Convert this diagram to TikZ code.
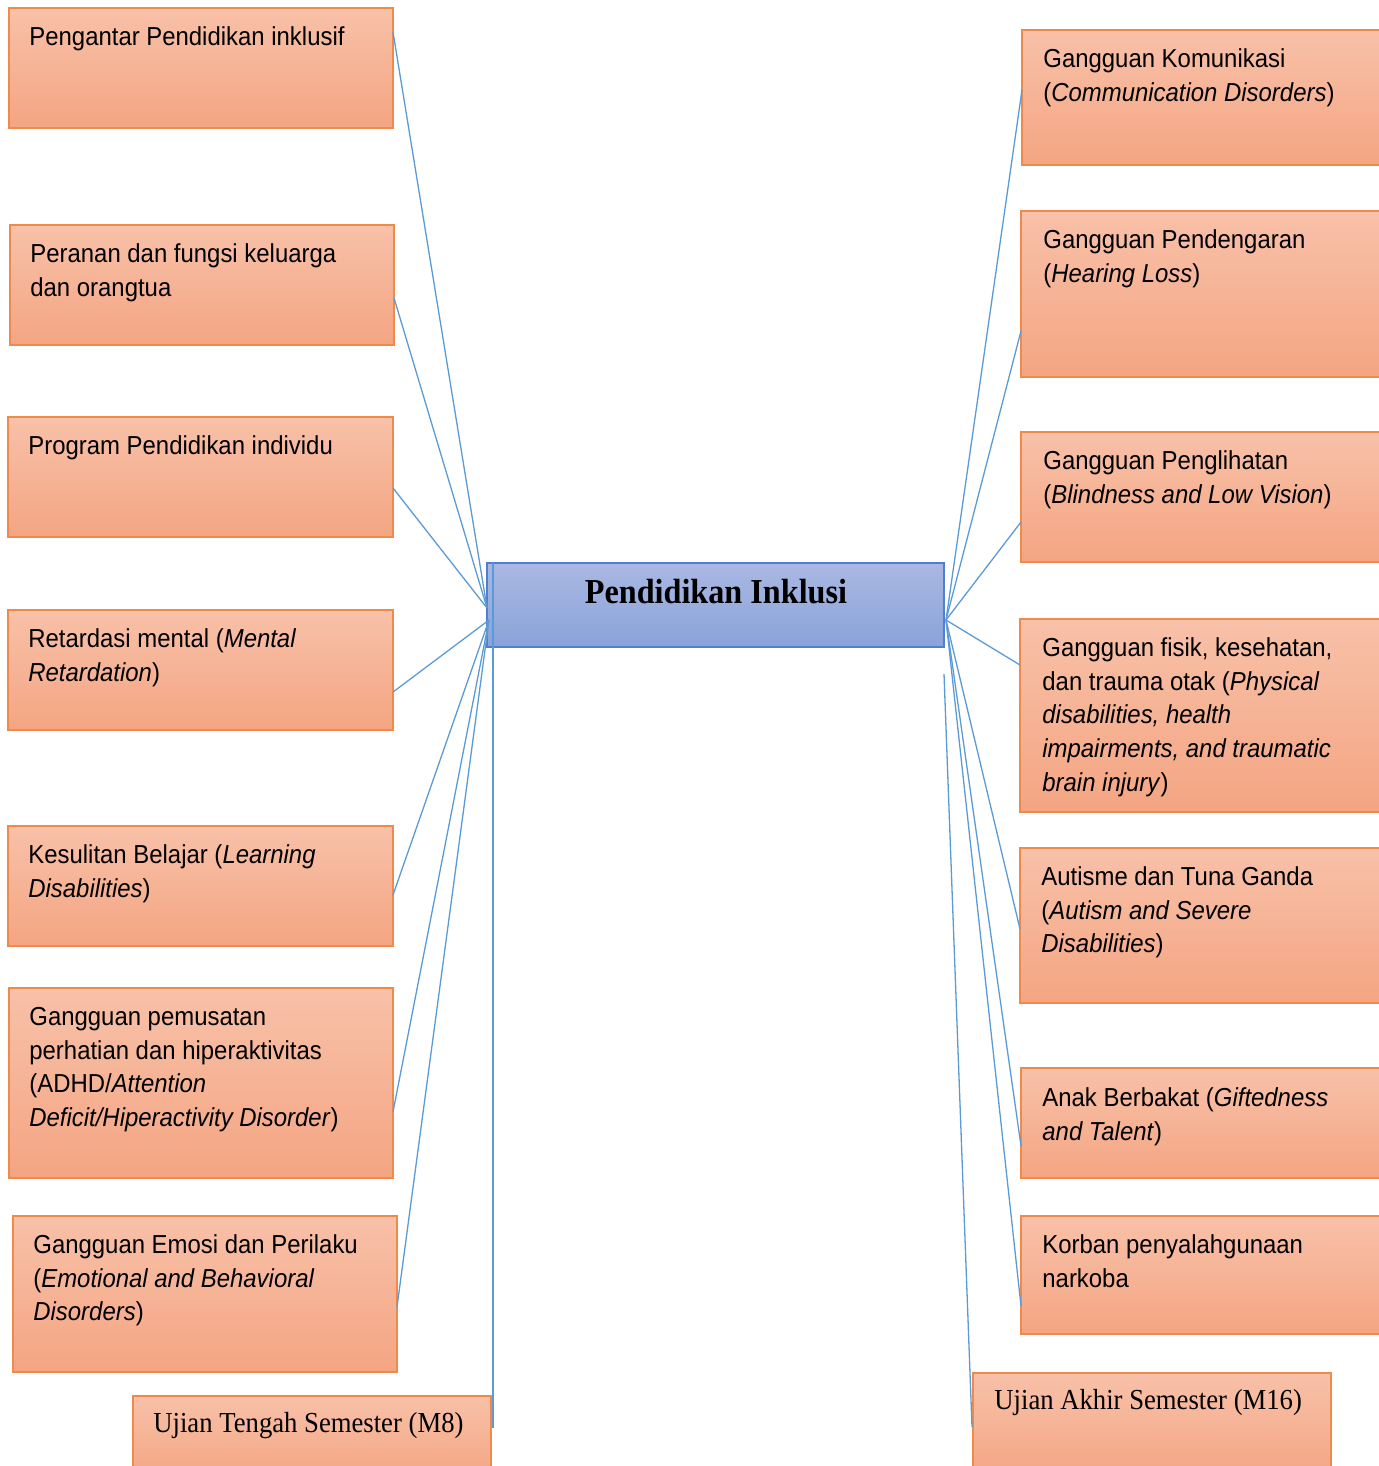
\documentclass[tikz,border=0pt]{standalone}
\usepackage{fontspec}
\setmainfont{Liberation Sans}[FakeStretch=0.92]
\newfontfamily\tnr{Liberation Serif}[FakeStretch=0.92]
\usetikzlibrary{calc}
\definecolor{otop}{RGB}{248,193,169}
\definecolor{obot}{RGB}{244,165,130}
\definecolor{oline}{RGB}{240,138,75}
\definecolor{btop}{RGB}{170,184,226}
\definecolor{bbot}{RGB}{138,163,218}
\definecolor{bline}{RGB}{80,126,210}
\definecolor{lineblue}{RGB}{91,155,213}
\newcommand\mkbox[6]{%
  \pgfmathsetmacro\bw{(#5-#3)/2}%
  \pgfmathsetmacro\bh{(#6-#4)/2}%
  \node[#2, minimum width=\bw pt, minimum height=\bh pt, anchor=north west] (#1) at (#3,#4) {};}
\begin{document}
\begin{tikzpicture}[x=0.5pt,y=-0.5pt,
  obox/.style={draw=oline, line width=0.75pt, top color=otop, bottom color=obot, inner sep=0pt, outer sep=0pt},
  cbox/.style={draw=bline, line width=0.75pt, top color=btop, bottom color=bbot, inner sep=0pt, outer sep=0pt},
  txt/.style={inner sep=0pt, align=left, font=\fontsize{13}{16.85}\selectfont, anchor=north west},
  ttxt/.style={inner sep=0pt, font=\tnr\fontsize{14.5}{17}\selectfont, anchor=base west},
  conn/.style={draw=lineblue, line width=0.65pt}]
\useasboundingbox (0,0) rectangle (1379,1466);
\clip (0,0) rectangle (1379,1466);
% left boxes
\mkbox{L1}{obox}{9}{8}{393}{128}
\mkbox{L2}{obox}{10}{225}{394}{345}
\mkbox{L3}{obox}{8}{417}{393}{537}
\mkbox{L4}{obox}{8}{610}{393}{730}
\mkbox{L5}{obox}{8}{826}{393}{946}
\mkbox{L6}{obox}{9}{988}{393}{1178}
\mkbox{L7}{obox}{13}{1216}{397}{1372}
\mkbox{UTS}{obox}{133}{1396}{491}{1480}
% right boxes
\mkbox{R1}{obox}{1022}{30}{1392}{165}
\mkbox{R2}{obox}{1021}{211}{1392}{377}
\mkbox{R3}{obox}{1021}{432}{1392}{562}
\mkbox{R4}{obox}{1020}{619}{1392}{812}
\mkbox{R5}{obox}{1020}{848}{1392}{1003}
\mkbox{R6}{obox}{1021}{1068}{1392}{1178}
\mkbox{R7}{obox}{1021}{1216}{1392}{1334}
\mkbox{UAS}{obox}{973}{1373}{1331}{1480}
% centre
\mkbox{C}{cbox}{487}{563}{944}{647}
\node[inner sep=0pt, anchor=base, font=\tnr\bfseries\fontsize{17.5}{20}\selectfont] (Ct) at (716,603) {Pendidikan Inklusi};
% texts
\node[txt] (L1t) at ($(L1.north west)+(20,11)$) {\rule{0pt}{13pt}Pengantar Pendidikan inklusif};
\node[txt] (L2t) at ($(L2.north west)+(20,11)$) {\rule{0pt}{13pt}Peranan dan fungsi keluarga\\dan orangtua};
\node[txt] (L3t) at ($(L3.north west)+(20,11)$) {\rule{0pt}{13pt}Program Pendidikan individu};
\node[txt] (L4t) at ($(L4.north west)+(20,11)$) {\rule{0pt}{13pt}Retardasi mental (\textit{Mental}\\\textit{Retardation})};
\node[txt] (L5t) at ($(L5.north west)+(20,11)$) {\rule{0pt}{13pt}Kesulitan Belajar (\textit{Learning}\\\textit{Disabilities})};
\node[txt] (L6t) at ($(L6.north west)+(20,11)$) {\rule{0pt}{13pt}Gangguan pemusatan\\perhatian dan hiperaktivitas\\(ADHD/\textit{Attention}\\\textit{Deficit/Hiperactivity Disorder})};
\node[txt] (L7t) at ($(L7.north west)+(20,11)$) {\rule{0pt}{13pt}Gangguan Emosi dan Perilaku\\(\textit{Emotional and Behavioral}\\\textit{Disorders})};
\node[txt] (R1t) at ($(R1.north west)+(21,11)$) {\rule{0pt}{13pt}Gangguan Komunikasi\\(\textit{Communication Disorders})};
\node[txt] (R2t) at ($(R2.north west)+(22,11)$) {\rule{0pt}{13pt}Gangguan Pendengaran\\(\textit{Hearing Loss})};
\node[txt] (R3t) at ($(R3.north west)+(22,11)$) {\rule{0pt}{13pt}Gangguan Penglihatan\\(\textit{Blindness and Low Vision})};
\node[txt] (R4t) at ($(R4.north west)+(22,11)$) {\rule{0pt}{13pt}Gangguan fisik, kesehatan,\\dan trauma otak (\textit{Physical}\\\textit{disabilities, health}\\\textit{impairments, and traumatic}\\\textit{brain injury})};
\node[txt] (R5t) at ($(R5.north west)+(21,11)$) {\rule{0pt}{13pt}Autisme dan Tuna Ganda\\(\textit{Autism and Severe}\\\textit{Disabilities})};
\node[txt] (R6t) at ($(R6.north west)+(21,12)$) {\rule{0pt}{13pt}Anak Berbakat (\textit{Giftedness}\\\textit{and Talent})};
\node[txt] (R7t) at ($(R7.north west)+(21,11)$) {\rule{0pt}{13pt}Korban penyalahgunaan\\narkoba};
\node[ttxt] (UTSt) at ($(UTS.north west)+(20,36)$) {Ujian Tengah Semester (M8)};
\node[ttxt] (UASt) at ($(UAS.north west)+(21,36)$) {Ujian Akhir Semester (M16)};
% connector points
\coordinate (cl) at ($(C.north west)+(0,45)$);
\coordinate (cl2) at ($(C.north west)+(2,57)$);
\coordinate (cr) at ($(C.north east)+(2,57)$);
\coordinate (ctl) at ($(C.north west)+(6,0)$);
\coordinate (crb) at ($(C.south east)+(0,27)$);
% connectors
\draw[conn] ([yshift=-12pt]L1.north east) -- (cl);
\draw[conn] ([yshift=-36.5pt]L2.north east) -- (cl);
\draw[conn] ([yshift=-35.5pt]L3.north east) -- (cl);
\draw[conn] ([yshift=-41pt]L4.north east) -- (cl2);
\draw[conn] ([yshift=-34.5pt]L5.north east) -- (cl2);
\draw[conn] ([yshift=-62pt]L6.north east) -- (cl2);
\draw[conn] ([yshift=-45.5pt]L7.north east) -- (cl2);
\draw[conn] ([xshift=1pt,yshift=-16pt]UTS.north east) -- (ctl);
\draw[conn] ([yshift=-30pt]R1.north west) -- (cr);
\draw[conn] ([yshift=-60pt]R2.north west) -- (cr);
\draw[conn] ([yshift=-45pt]R3.north west) -- (cr);
\draw[conn] ([yshift=-23pt]R4.north west) -- (cr);
\draw[conn] ([yshift=-40.5pt]R5.north west) -- (cr);
\draw[conn] ([yshift=-39pt]R6.north west) -- (cr);
\draw[conn] ([yshift=-45pt]R7.north west) -- (cr);
\draw[conn] ([xshift=-0.5pt,yshift=-27pt]UAS.north west) -- (crb);
\end{tikzpicture}
\end{document}
